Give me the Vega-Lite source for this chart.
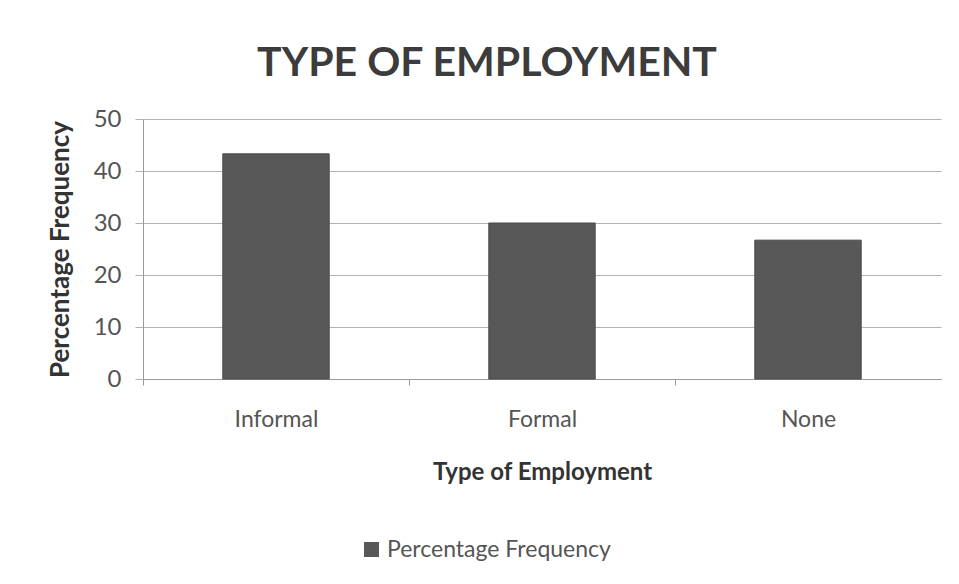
{
  "$schema": "https://vega.github.io/schema/vega-lite/v6.json",
  "width": 798,
  "height": 260,
  "autosize": {"type": "none"},
  "padding": {"left": 143, "top": 119, "right": 18, "bottom": 205},
  "background": "white",
  "config": {"font": "Lato", "view": {"stroke": null}},
  "title": {
    "text": "TYPE OF EMPLOYMENT",
    "font": "Lato",
    "fontSize": 41,
    "fontWeight": "bold",
    "color": "#3c3c3c",
    "anchor": "middle",
    "frame": "group",
    "dx": -55,
    "offset": 22
  },
  "data": {
    "values": [
      {"type": "Informal", "pct": 43.3, "series": "Percentage Frequency"},
      {"type": "Formal", "pct": 30.0, "series": "Percentage Frequency"},
      {"type": "None", "pct": 26.7, "series": "Percentage Frequency"}
    ]
  },
  "mark": {"type": "bar", "stroke": "#4a4a4a", "strokeWidth": 1},
  "encoding": {
    "x": {
      "field": "type",
      "type": "nominal",
      "sort": ["Informal", "Formal", "None"],
      "scale": {"paddingInner": 0.6, "paddingOuter": 0.3},
      "axis": {
        "title": "Type of Employment",
        "labelAngle": 0,
        "labelFont": "Lato",
        "labelFontSize": 23,
        "labelColor": "#555555",
        "labelPadding": 23,
        "labelOffset": 133,
        "tickOffset": -133,
        "titleFont": "Lato",
        "titleFontSize": 24,
        "titleFontWeight": "bold",
        "titleColor": "#333333",
        "titlePadding": 29,
        "tickSize": 6,
        "tickColor": "#9a9a9a",
        "domainColor": "#9a9a9a",
        "grid": false
      }
    },
    "y": {
      "field": "pct",
      "type": "quantitative",
      "scale": {"domain": [0, 50], "nice": false},
      "axis": {
        "values": [0, 10, 20, 30, 40, 50],
        "title": "Percentage Frequency",
        "labelFont": "Lato",
        "labelFontSize": 24,
        "labelColor": "#555555",
        "labelPadding": 14,
        "titleFont": "Lato",
        "titleFontSize": 26,
        "titleFontWeight": "bold",
        "titleColor": "#333333",
        "titlePadding": 20,
        "tickSize": 8,
        "tickColor": "#b0b0b0",
        "domainColor": "#9a9a9a",
        "grid": true,
        "gridColor": "#b3b3b3",
        "gridWidth": 1
      }
    },
    "color": {
      "field": "series",
      "type": "nominal",
      "scale": {"range": ["#585858"]},
      "legend": {
        "title": null,
        "orient": "none",
        "legendX": 217,
        "legendY": 419,
        "direction": "horizontal",
        "symbolType": "square",
        "symbolSize": 225,
        "symbolStrokeWidth": 0,
        "labelFont": "Lato",
        "labelFontSize": 23,
        "labelColor": "#555555",
        "labelLimit": 0,
        "labelOffset": 4
      }
    }
  }
}
